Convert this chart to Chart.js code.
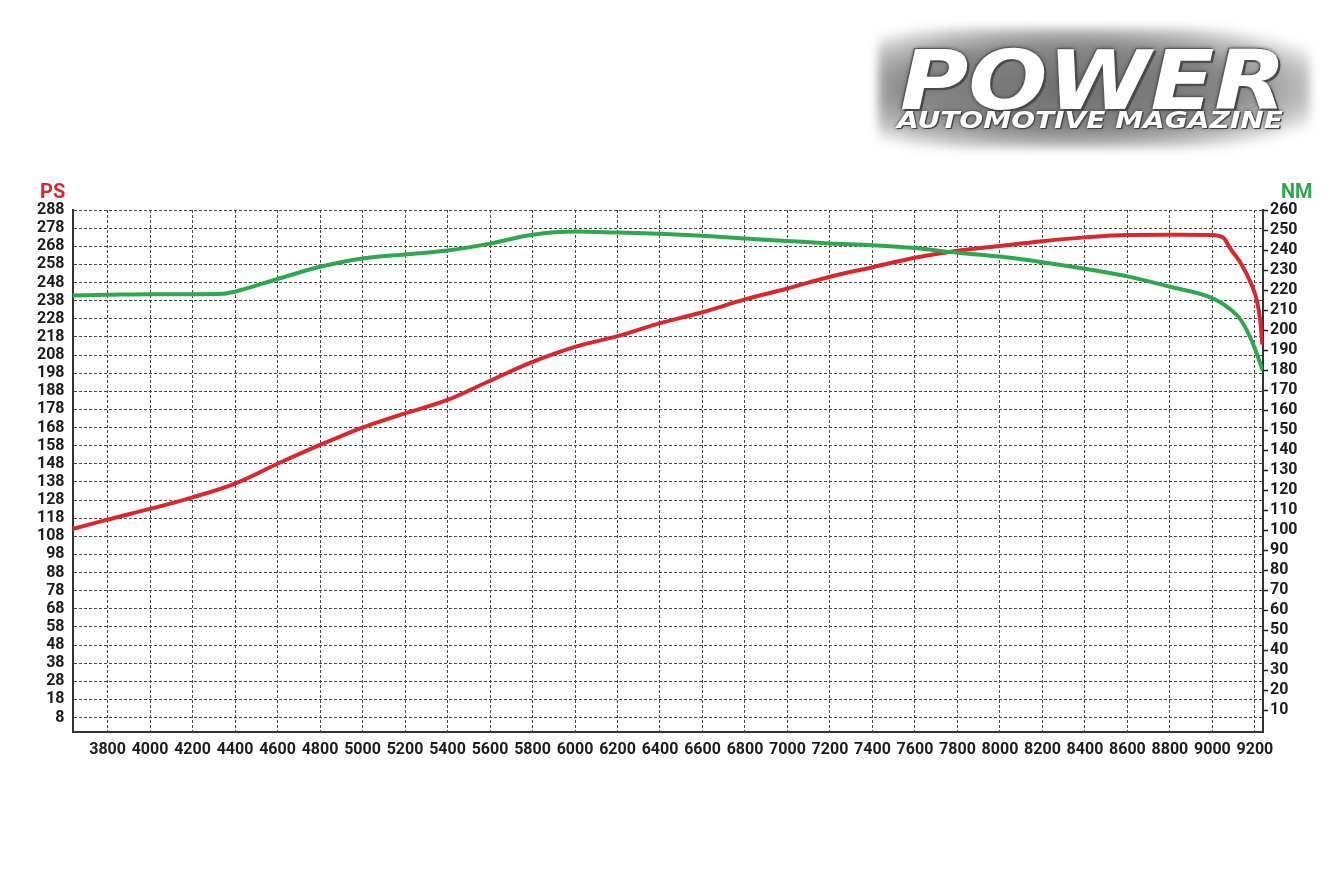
<!DOCTYPE html>
<html>
<head>
<meta charset="utf-8">
<title>Dyno chart</title>
<script src="https://cdn.jsdelivr.net/npm/chart.js@4.4.0/dist/chart.umd.min.js"></script>
<style>
  html, body { margin: 0; padding: 0; background: #fff; }
  #wrap { position: relative; width: 1340px; height: 892px; overflow: hidden; background: #fff; }
  #chart { position: absolute; left: 0; top: 0; }
  #logo .glow {
    position: absolute; left: 878px; top: 28px; width: 432px; height: 120px;
    background: radial-gradient(ellipse at 45% 50%, #6f6f6f 0%, #868686 48%, rgba(170,170,170,0.75) 70%, rgba(255,255,255,0) 86%);
    filter: blur(5px);
  }
  #logo .txt {
    position: absolute; white-space: nowrap; color: #fff;
    font-family: 'DejaVu Sans', sans-serif; font-weight: bold; font-style: italic;
    line-height: 1; transform-origin: 0 0;
  }
  #power { left: 900px; top: 40px; font-size: 82px;
    text-shadow: 2px 2px 0 #4a4a4a, -1px -1px 0 #5a5a5a, 0 0 4px #333; }
  #sub { left: 897px; top: 109px; font-size: 23px; font-style: normal;
    text-shadow: 1px 1px 0 #444, 0 0 3px #333; }
</style>
</head>
<body>
<div id="wrap">
  <canvas id="chart" width="1340" height="892"></canvas>
  <div id="logo">
    <div class="glow"></div>
    <div class="txt" id="power">POWER</div>
    <div class="txt" id="sub">AUTOMOTIVE MAGAZINE</div>
  </div>
</div>
<script>
// ===== Data =====
const rpmTicks = [3800, 4000, 4200, 4400, 4600, 4800, 5000, 5200, 5400, 5600, 5800, 6000, 6200,
  6400, 6600, 6800, 7000, 7200, 7400, 7600, 7800, 8000, 8200, 8400, 8600, 8800, 9000, 9200];
const psTicks = [8, 18, 28, 38, 48, 58, 68, 78, 88, 98, 108, 118, 128, 138, 148, 158, 168, 178,
  188, 198, 208, 218, 228, 238, 248, 258, 268, 278, 288];
const nmTicks = [10, 20, 30, 40, 50, 60, 70, 80, 90, 100, 110, 120, 130, 140, 150, 160, 170, 180,
  190, 200, 210, 220, 230, 240, 250, 260];

// power curve (PS, left axis)
const rpmPower = [3635, 3800, 4000, 4200, 4400, 4600, 4800, 5000, 5200, 5400, 5600, 5800, 6000,
  6200, 6400, 6600, 6800, 7000, 7200, 7400, 7600, 7800, 8000, 8200, 8400, 8600, 8800, 9000,
  9030, 9055, 9085, 9135, 9185, 9210, 9225, 9235];
const psValues = [112, 117.2, 123.1, 129.5, 137.1, 148, 158.4, 168, 175.8, 183.2, 193.8, 204.2,
  212.5, 218.4, 225.6, 231.6, 238.7, 244.7, 251.2, 256.4, 261.7, 265.5, 268.2, 270.8, 272.9,
  274.2, 274.3, 274.2, 273.7, 272.4, 266.6, 258.4, 246.6, 237.6, 227, 213.8];

// torque curve (NM, right axis)
const rpmTorque = [3635, 3800, 4000, 4200, 4340, 4400, 4600, 4800, 5000, 5200, 5400, 5600, 5800,
  6000, 6200, 6400, 6600, 6800, 7000, 7200, 7400, 7600, 7800, 8000, 8200, 8400, 8600, 8800,
  9000, 9085, 9137, 9190, 9237];
const nmValues = [217.3, 217.6, 217.9, 217.9, 218.1, 219.2, 225.5, 231.6, 235.8, 237.8, 239.7,
  243.2, 247.6, 249.2, 248.7, 248.1, 247.1, 245.7, 244.5, 243.3, 242.4, 241, 238.6, 236.7,
  233.9, 230.6, 226.8, 221.6, 215.9, 210.3, 204.5, 193.4, 179.7];

const RED = '#d8272d';
const GREEN = '#2ea84e';
const FONT = "Roboto, 'DejaVu Sans Condensed', sans-serif";
const INK = '#1c1c1c';

// ===== Axis titles (PS / NM) =====
const unitTitles = {
  id: 'unitTitles',
  afterDraw(chart) {
    const ctx = chart.ctx;
    const top = chart.chartArea.top;
    ctx.save();
    ctx.font = 'bold 20px ' + FONT;
    ctx.textBaseline = 'alphabetic';
    ctx.fillStyle = RED;
    ctx.textAlign = 'left';
    ctx.fillText('PS', 40, top - 12);
    ctx.fillStyle = GREEN;
    ctx.fillText('NM', chart.scales.yNM.left + 18, top - 12);
    ctx.restore();
  }
};

function setTicks(values) {
  return scale => { scale.ticks = values.map(v => ({ value: v })); };
}

const tickFont = { family: FONT, size: 16, weight: 'bold' };

const chart = new Chart(document.getElementById('chart'), {
  type: 'line',
  data: {
    datasets: [
      {
        label: 'NM',
        data: rpmTorque.map((r, i) => ({ x: r, y: nmValues[i] })),
        borderColor: GREEN,
        borderWidth: 4,
        pointRadius: 0,
        cubicInterpolationMode: 'monotone',
        yAxisID: 'yNM'
      },
      {
        label: 'PS',
        data: rpmPower.map((r, i) => ({ x: r, y: psValues[i] })),
        borderColor: RED,
        borderWidth: 4,
        pointRadius: 0,
        cubicInterpolationMode: 'monotone',
        yAxisID: 'yPS'
      }
    ]
  },
  options: {
    responsive: false,
    animation: false,
    devicePixelRatio: 1,
    layout: { padding: { top: 210, left: 0, right: 0, bottom: 0 } },
    plugins: { legend: { display: false }, tooltip: { enabled: false } },
    scales: {
      x: {
        type: 'linear',
        min: 3635,
        max: 9238,
        afterBuildTicks: setTicks(rpmTicks),
        afterFit: s => { s.height = 160.5; },
        grid: { color: '#4a4a4a', lineWidth: 1, drawTicks: false },
        border: { color: '#333', width: 2, dash: [3, 2] },
        ticks: {
          color: INK, font: tickFont, padding: 9, maxRotation: 0, autoSkip: false,
          callback: v => String(v)
        }
      },
      yPS: {
        position: 'left',
        min: 0.3,
        max: 288,
        afterBuildTicks: setTicks(psTicks),
        afterFit: s => { s.width = 72.5; },
        grid: { color: '#4a4a4a', lineWidth: 1, drawTicks: false },
        border: { color: '#333', width: 2, dash: [3, 2] },
        ticks: { color: INK, font: tickFont, padding: 8, autoSkip: false, callback: v => String(v) }
      },
      yNM: {
        position: 'right',
        min: -0.75,
        max: 260,
        afterBuildTicks: setTicks(nmTicks),
        afterFit: s => { s.width = 77; },
        grid: { drawOnChartArea: false, drawTicks: true, tickLength: 5, tickColor: '#222', tickWidth: 1.5 },
        border: { color: '#333', width: 2 },
        ticks: { color: INK, font: tickFont, padding: 2, autoSkip: false, callback: v => String(v) }
      }
    }
  },
  plugins: [unitTitles]
});

// ===== Logo sizing =====
function fitWidth(id, width) {
  const el = document.getElementById(id);
  const w = el.getBoundingClientRect().width;
  el.style.transform = 'scaleX(' + (width / w) + ')';
}
fitWidth('power', 386);
fitWidth('sub', 386);
</script>
</body>
</html>
